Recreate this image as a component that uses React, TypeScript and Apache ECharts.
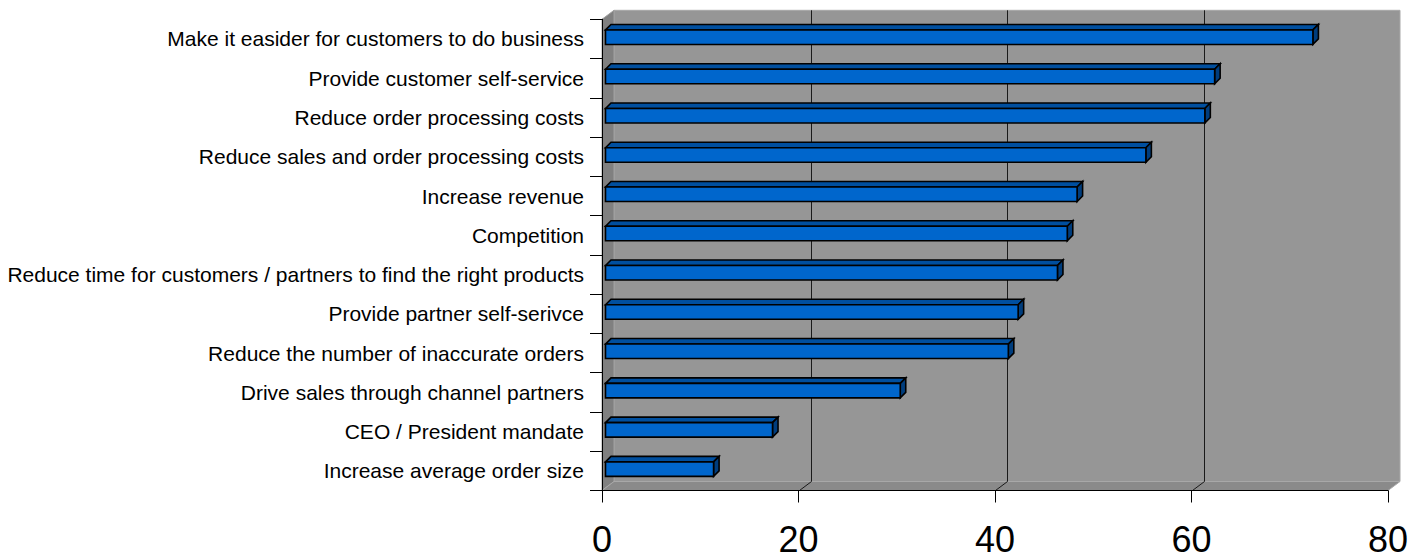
import React, { useEffect, useRef } from "react";
import * as echarts from "echarts";

const categories = [
  "Make it easider for customers to do business",
  "Provide customer self-service",
  "Reduce order processing costs",
  "Reduce sales and order processing costs",
  "Increase revenue",
  "Competition",
  "Reduce time for customers / partners to find the right products",
  "Provide partner self-serivce",
  "Reduce the number of inaccurate orders",
  "Drive sales through channel partners",
  "CEO / President mandate",
  "Increase average order size",
];
const values = [72, 62, 61, 55, 48, 47, 46, 42, 41, 30, 17, 11];
const xMin = 0;
const xMax = 80;
const xInterval = 20;
const gridValues = [20, 40, 60];

const FONT = '"Liberation Sans", Arial, sans-serif';
const DX = 12;
const DY = -9;

export default function App() {
  const ref = useRef<HTMLDivElement>(null);
  useEffect(() => {
    if (!ref.current) return;
    const chart = echarts.init(ref.current, null, { renderer: "svg" });
    const wallRender = (params: any, api: any) => {
      const cs = params.coordSys;
      const x0 = cs.x, y0 = cs.y, w = cs.width, h = cs.height;
      const children: any[] = [];
      children.push({
        type: "rect",
        shape: { x: x0 + DX, y: y0 + DY, width: w, height: h },
        style: { fill: "#969696", stroke: "#a8a8a8", lineWidth: 1 },
      });
      children.push({
        type: "polygon",
        shape: { points: [[x0, y0], [x0 + DX, y0 + DY], [x0 + DX, y0 + h + DY], [x0, y0 + h]] },
        style: { fill: "#808080", stroke: "#a0a0a0", lineWidth: 1 },
      });
      children.push({
        type: "polygon",
        shape: { points: [[x0, y0 + h], [x0 + DX, y0 + h + DY], [x0 + w + DX, y0 + h + DY], [x0 + w, y0 + h]] },
        style: { fill: "#8a8a8a", stroke: "#a8a8a8", lineWidth: 1 },
      });
      gridValues.forEach((v) => {
        const px = Math.round(api.coord([v, 0])[0]) + 0.5;
        children.push({
          type: "line",
          shape: { x1: px + DX, y1: y0 + DY, x2: px + DX, y2: y0 + h + DY },
          style: { stroke: "#1a1a1a", lineWidth: 1 },
        });
        children.push({
          type: "line",
          shape: { x1: px, y1: y0 + h, x2: px + DX, y2: y0 + h + DY },
          style: { stroke: "#1a1a1a", lineWidth: 1 },
        });
      });
      return { type: "group", children };
    };
    const barRender = (params: any, api: any) => {
      const v = api.value(0);
      const i = api.value(1);
      const p0 = api.coord([0, i]);
      const p1 = api.coord([v, i]);
      const xa = p0[0] + 3.5;
      const xb = p1[0] + 3.5;
      const c = p1[1];
      const top = c - 9;
      const bot = c + 5.5;
      const d = 5.5;
      const stroke = { stroke: "#000000", lineWidth: 1.6, lineJoin: "miter" };
      return {
        type: "group",
        children: [
          {
            type: "polygon",
            shape: { points: [[xa, top], [xa + d, top - d], [xb + d, top - d], [xb, top]] },
            style: { fill: "#004f9f", ...stroke },
          },
          {
            type: "polygon",
            shape: { points: [[xb, top], [xb + d, top - d], [xb + d, bot - d], [xb, bot]] },
            style: { fill: "#003d7d", ...stroke },
          },
          {
            type: "rect",
            shape: { x: xa, y: top, width: xb - xa, height: bot - top },
            style: { fill: "#0066cc", ...stroke },
          },
        ],
      };
    };
    chart.setOption({
      animation: false,
      backgroundColor: "#ffffff",
      grid: { left: 602, top: 19.3, right: 38, bottom: 68.5, containLabel: false },
      xAxis: {
        type: "value",
        min: xMin,
        max: xMax,
        interval: xInterval,
        z: 5,
        axisLine: { show: true, lineStyle: { color: "#000000", width: 1 } },
        axisTick: { show: true, length: 12, lineStyle: { color: "#000000", width: 1 } },
        splitLine: { show: false },
        axisLabel: { fontSize: 36, color: "#000000", fontFamily: FONT, margin: 31 },
      },
      yAxis: {
        type: "category",
        data: categories,
        inverse: true,
        z: 5,
        axisLine: { show: true, lineStyle: { color: "#000000", width: 1 } },
        axisTick: { show: true, length: 12, lineStyle: { color: "#000000", width: 1 } },
        splitLine: { show: false },
        axisLabel: { fontSize: 21, color: "#000000", fontFamily: FONT, margin: 18 },
      },
      series: [
        {
          type: "custom",
          z: 1,
          renderItem: wallRender,
          data: [[0, 0]],
          encode: { x: 0, y: 1 },
          silent: true,
        },
        {
          type: "custom",
          z: 2,
          renderItem: barRender,
          data: values.map((v, i) => [v, i]),
          encode: { x: 0, y: 1 },
        },
      ],
    });
    return () => chart.dispose();
  }, []);
  return (
    <div
      ref={ref}
      style={{ position: "fixed", left: 0, top: 0, width: 1426, height: 559 }}
    />
  );
}
